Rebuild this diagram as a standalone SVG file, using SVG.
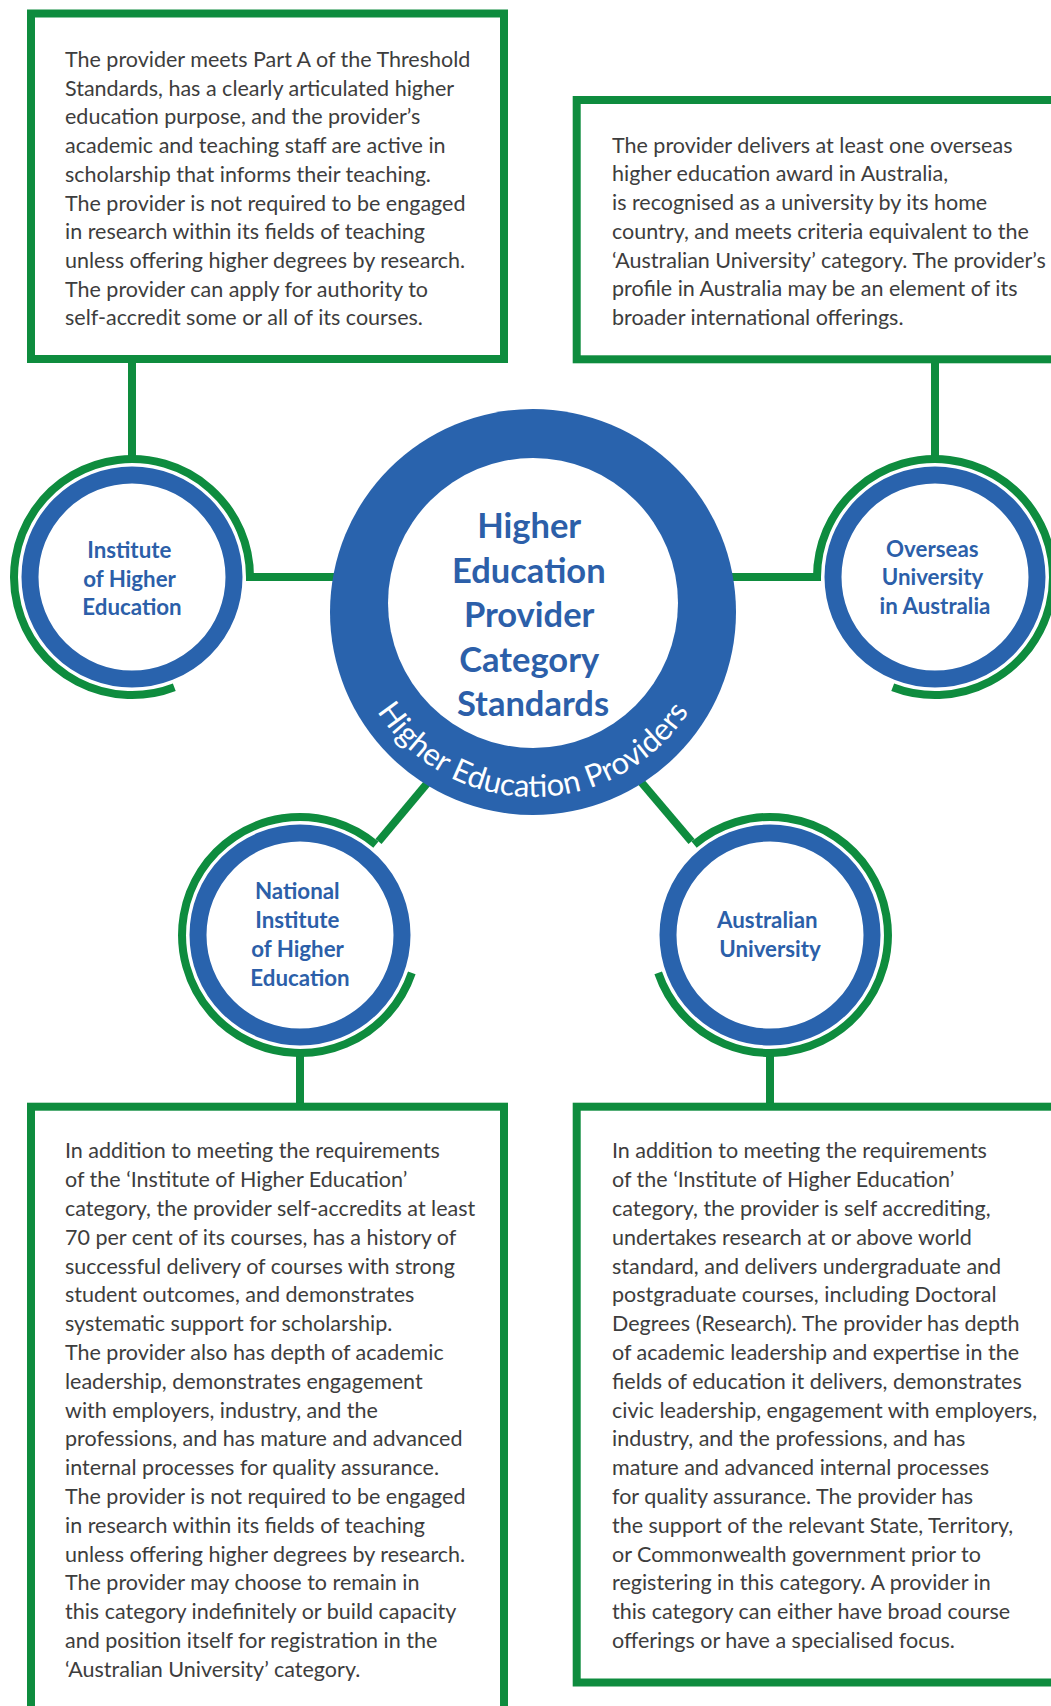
<svg xmlns="http://www.w3.org/2000/svg" width="1051" height="1706" viewBox="0 0 1051 1706">
  <style>
    .box { fill: #ffffff; stroke: #0e8c3e; stroke-width: 8; }
    .conn { fill: none; stroke: #0e8c3e; stroke-width: 8; }
    .garc { fill: none; stroke: #0e8c3e; stroke-width: 8; stroke-linecap: butt; }
    .bring { fill: #ffffff; stroke: #2963ad; stroke-width: 17; }
    .body { font-family: Lato, "Liberation Sans", sans-serif; font-size: 21.5px; fill: #3d3d3d; }
    .lbl { font-family: Lato, "Liberation Sans", sans-serif; font-size: 22.3px; font-weight: bold; fill: #2c5fa9; text-anchor: middle; }
    .title { font-family: Lato, "Liberation Sans", sans-serif; font-size: 34.5px; font-weight: bold; fill: #2c5fa9; text-anchor: middle; }
    .ring { font-family: Lato, "Liberation Sans", sans-serif; font-size: 31px; fill: #ffffff; }
  </style>
  <defs>
    <path id="ringPath" d="M 348 612 A 185 185 0 0 0 718 612"/>
  </defs>
  <rect width="1051" height="1706" fill="#ffffff"/>

  <g id="connectors">
    <line class="conn" x1="132" y1="359" x2="132" y2="462"/>
    <line class="conn" x1="935" y1="359" x2="935" y2="462"/>
    <line class="conn" x1="246" y1="577" x2="345" y2="577"/>
    <line class="conn" x1="720" y1="577" x2="821" y2="577"/>
    <line class="conn" x1="378.5" y1="841.5" x2="432" y2="777.5"/>
    <line class="conn" x1="691.5" y1="841.5" x2="636" y2="776"/>
    <line class="conn" x1="300" y1="1050" x2="300" y2="1106"/>
    <line class="conn" x1="770" y1="1050" x2="770" y2="1106"/>
  </g>

  <g id="box-institute">
    <rect class="box" x="31" y="13.5" width="473" height="345.5"/>
    <text class="body">
      <tspan x="65" y="67">The provider meets Part A of the Threshold</tspan>
      <tspan x="65" y="95.7">Standards, has a clearly articulated higher</tspan>
      <tspan x="65" y="124.4">education purpose, and the provider’s</tspan>
      <tspan x="65" y="153.1">academic and teaching staff are active in</tspan>
      <tspan x="65" y="181.8">scholarship that informs their teaching.</tspan>
      <tspan x="65" y="210.5">The provider is not required to be engaged</tspan>
      <tspan x="65" y="239.2">in research within its fields of teaching</tspan>
      <tspan x="65" y="267.9">unless offering higher degrees by research.</tspan>
      <tspan x="65" y="296.6">The provider can apply for authority to</tspan>
      <tspan x="65" y="325.3">self-accredit some or all of its courses.</tspan>
    </text>
  </g>

  <g id="box-overseas">
    <rect class="box" x="576.7" y="100" width="500" height="259.3"/>
    <text class="body">
      <tspan x="612" y="152.7">The provider delivers at least one overseas</tspan>
      <tspan x="612" y="181.4">higher education award in Australia,</tspan>
      <tspan x="612" y="210.1">is recognised as a university by its home</tspan>
      <tspan x="612" y="238.8">country, and meets criteria equivalent to the</tspan>
      <tspan x="612" y="267.5">‘Australian University’ category. The provider’s</tspan>
      <tspan x="612" y="296.2">profile in Australia may be an element of its</tspan>
      <tspan x="612" y="324.9">broader international offerings.</tspan>
    </text>
  </g>

  <g id="box-national">
    <rect class="box" x="31" y="1106.7" width="473" height="700"/>
    <text class="body">
      <tspan x="65" y="1158.3">In addition to meeting the requirements</tspan>
      <tspan x="65" y="1187.1">of the ‘Institute of Higher Education’</tspan>
      <tspan x="65" y="1215.9">category, the provider self-accredits at least</tspan>
      <tspan x="65" y="1244.7">70 per cent of its courses, has a history of</tspan>
      <tspan x="65" y="1273.5">successful delivery of courses with strong</tspan>
      <tspan x="65" y="1302.3">student outcomes, and demonstrates</tspan>
      <tspan x="65" y="1331.1">systematic support for scholarship.</tspan>
      <tspan x="65" y="1359.9">The provider also has depth of academic</tspan>
      <tspan x="65" y="1388.7">leadership, demonstrates engagement</tspan>
      <tspan x="65" y="1417.5">with employers, industry, and the</tspan>
      <tspan x="65" y="1446.3">professions, and has mature and advanced</tspan>
      <tspan x="65" y="1475.1">internal processes for quality assurance.</tspan>
      <tspan x="65" y="1503.9">The provider is not required to be engaged</tspan>
      <tspan x="65" y="1532.7">in research within its fields of teaching</tspan>
      <tspan x="65" y="1561.5">unless offering higher degrees by research.</tspan>
      <tspan x="65" y="1590.3">The provider may choose to remain in</tspan>
      <tspan x="65" y="1619.1">this category indefinitely or build capacity</tspan>
      <tspan x="65" y="1647.9">and position itself for registration in the</tspan>
      <tspan x="65" y="1676.7">‘Australian University’ category.</tspan>
    </text>
  </g>

  <g id="box-australian">
    <rect class="box" x="576.7" y="1106.7" width="500" height="575.8"/>
    <text class="body">
      <tspan x="612" y="1158.3">In addition to meeting the requirements</tspan>
      <tspan x="612" y="1187.1">of the ‘Institute of Higher Education’</tspan>
      <tspan x="612" y="1215.9">category, the provider is self accrediting,</tspan>
      <tspan x="612" y="1244.7">undertakes research at or above world</tspan>
      <tspan x="612" y="1273.5">standard, and delivers undergraduate and</tspan>
      <tspan x="612" y="1302.3">postgraduate courses, including Doctoral</tspan>
      <tspan x="612" y="1331.1">Degrees (Research). The provider has depth</tspan>
      <tspan x="612" y="1359.9">of academic leadership and expertise in the</tspan>
      <tspan x="612" y="1388.7">fields of education it delivers, demonstrates</tspan>
      <tspan x="612" y="1417.5">civic leadership, engagement with employers,</tspan>
      <tspan x="612" y="1446.3">industry, and the professions, and has</tspan>
      <tspan x="612" y="1475.1">mature and advanced internal processes</tspan>
      <tspan x="612" y="1503.9">for quality assurance. The provider has</tspan>
      <tspan x="612" y="1532.7">the support of the relevant State, Territory,</tspan>
      <tspan x="612" y="1561.5">or Commonwealth government prior to</tspan>
      <tspan x="612" y="1590.3">registering in this category. A provider in</tspan>
      <tspan x="612" y="1619.1">this category can either have broad course</tspan>
      <tspan x="612" y="1647.9">offerings or have a specialised focus.</tspan>
    </text>
  </g>

  <g id="center">
    <circle cx="533" cy="612" r="203" fill="#2963ad"/>
    <circle cx="533" cy="603" r="145" fill="#ffffff"/>
    <text class="title">
      <tspan x="533" y="538">Higher</tspan>
      <tspan x="533" y="582.5">Education</tspan>
      <tspan x="533" y="627">Provider</tspan>
      <tspan x="533" y="671.5">Category</tspan>
      <tspan x="533" y="716">Standards</tspan>
    </text>
    <text class="ring"><textPath href="#ringPath" startOffset="50%" text-anchor="middle">Higher Education Providers</textPath></text>
  </g>

  <g id="node-institute">
    <path class="garc" d="M 250 577 A 118 118 0 1 0 174.3 687.2"/>
    <circle class="bring" cx="132" cy="577" r="102"/>
    <text class="lbl">
      <tspan x="132" y="558.3">Institute</tspan>
      <tspan x="132" y="586.7">of Higher</tspan>
      <tspan x="132" y="615">Education</tspan>
    </text>
  </g>

  <g id="node-overseas">
    <path class="garc" d="M 817 577 A 118 118 0 1 1 892.7 687.2"/>
    <circle class="bring" cx="935" cy="577" r="102"/>
    <text class="lbl">
      <tspan x="935" y="556.7">Overseas</tspan>
      <tspan x="935" y="585">University</tspan>
      <tspan x="935" y="614">in Australia</tspan>
    </text>
  </g>

  <g id="node-national">
    <path class="garc" d="M 375.9 844.6 A 118 118 0 1 0 411.8 972.9"/>
    <circle class="bring" cx="300" cy="935" r="102"/>
    <text class="lbl">
      <tspan x="300" y="899.3">National</tspan>
      <tspan x="300" y="928.3">Institute</tspan>
      <tspan x="300" y="956.7">of Higher</tspan>
      <tspan x="300" y="985.7">Education</tspan>
    </text>
  </g>

  <g id="node-australian">
    <path class="garc" d="M 694.1 844.6 A 118 118 0 1 1 658.2 972.9"/>
    <circle class="bring" cx="770" cy="935" r="102"/>
    <text class="lbl">
      <tspan x="770" y="928.3">Australian</tspan>
      <tspan x="770" y="956.7">University</tspan>
    </text>
  </g>
</svg>
